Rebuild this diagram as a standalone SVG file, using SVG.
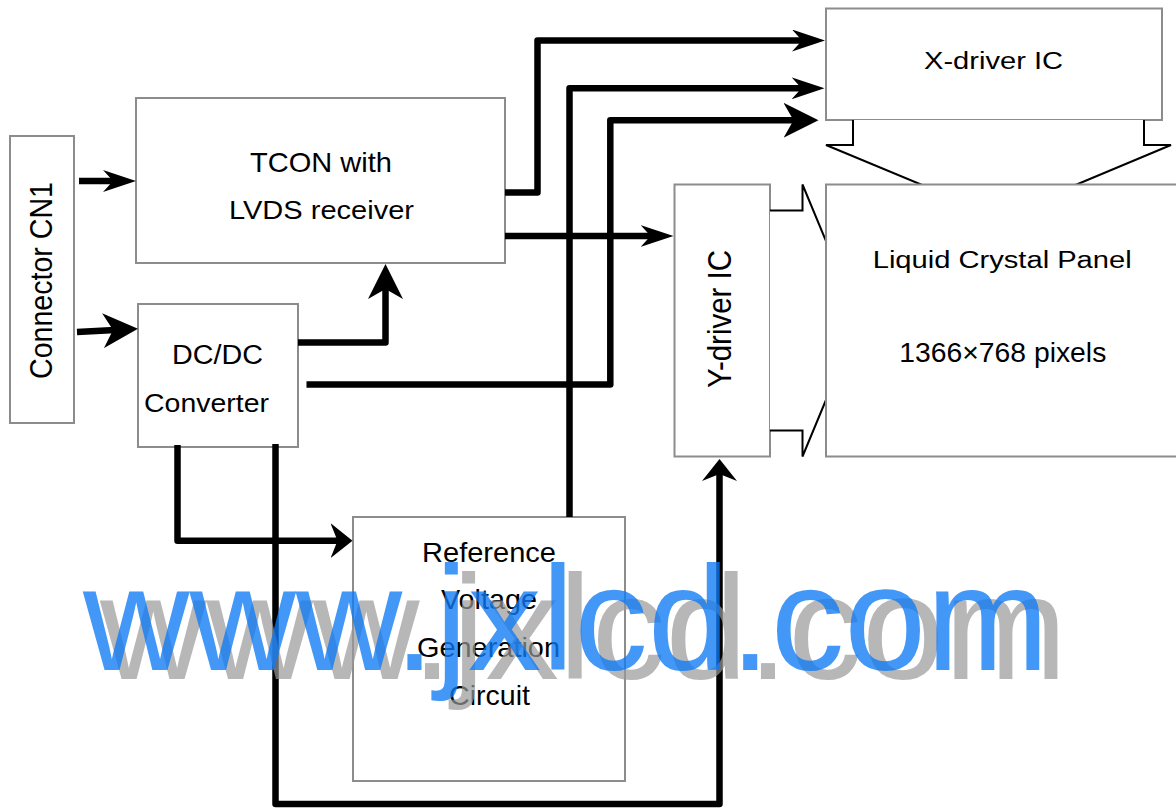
<svg xmlns="http://www.w3.org/2000/svg" width="1176" height="810" viewBox="0 0 1176 810">
<style>
.box{fill:#fff;stroke:#8c8c8c;stroke-width:2}
.t{font-family:"Liberation Sans",Arial,sans-serif;fill:#000}
.w{fill:none;stroke:#000;stroke-width:6.5;stroke-linejoin:round}
.h{fill:#fff;stroke:#000;stroke-width:2;stroke-linejoin:miter}
.wm{font-family:"Liberation Sans",Arial,sans-serif;font-size:148px}
</style>
<defs>
<marker id="ms" markerUnits="userSpaceOnUse" viewBox="0 0 33 22" markerWidth="33" markerHeight="22" refX="12" refY="11" orient="auto"><path d="M0,0 L33,11 L0,22 L10,11 Z" fill="#000"/></marker>
<marker id="mb" markerUnits="userSpaceOnUse" viewBox="0 0 35 35" markerWidth="35" markerHeight="35" refX="12" refY="17.5" orient="auto"><path d="M0,0 L35,17.5 L0,35 L10,17.5 Z" fill="#000"/></marker>
<marker id="mt" markerUnits="userSpaceOnUse" viewBox="0 0 22 35" markerWidth="22" markerHeight="35" refX="9" refY="17.5" orient="auto"><path d="M0,0 L22,17.5 L0,35 L7,17.5 Z" fill="#000"/></marker>
</defs>
<rect width="1176" height="810" fill="#fff"/>

<g id="connector-cn1">
<rect class="box" x="10" y="136" width="64" height="287"/>
<text class="t" transform="translate(51.5,280.5) rotate(-90)" text-anchor="middle" font-size="32" textLength="197" lengthAdjust="spacingAndGlyphs">Connector CN1</text>
</g>

<g id="tcon">
<rect class="box" x="136" y="98" width="369" height="165"/>
<text class="t" x="250" y="171.5" font-size="28" textLength="142" lengthAdjust="spacingAndGlyphs">TCON with</text>
<text class="t" x="229" y="219" font-size="25" textLength="185" lengthAdjust="spacingAndGlyphs">LVDS receiver</text>
</g>

<g id="dcdc">
<rect class="box" x="138" y="304" width="160" height="143"/>
<text class="t" x="172" y="364.3" font-size="28.4" textLength="91" lengthAdjust="spacingAndGlyphs">DC/DC</text>
<text class="t" x="144" y="412" font-size="26" textLength="125" lengthAdjust="spacingAndGlyphs">Converter</text>
</g>

<g id="x-driver">
<rect class="box" x="826" y="8.5" width="336" height="111.5"/>
<text class="t" x="924" y="69.3" font-size="23.3" textLength="139" lengthAdjust="spacingAndGlyphs">X-driver IC</text>
</g>

<g id="y-driver">
<rect class="box" x="674.5" y="184.5" width="95.5" height="272"/>
<text class="t" transform="translate(731,319) rotate(-90)" text-anchor="middle" font-size="33.5" textLength="138" lengthAdjust="spacingAndGlyphs">Y-driver IC</text>
</g>

<g id="panel-arrows">
<path class="h" d="M853,120 V145 H826 L999,217 L1171,145 H1144 V120"/>
<path class="h" d="M770,210.5 H802.5 V184.5 L859,320.5 L802.5,456.5 V430.5 H770"/>
</g>

<g id="panel">
<rect class="box" x="826" y="184.5" width="352" height="272"/>
<text class="t" x="872.7" y="268.3" font-size="23.3" textLength="259" lengthAdjust="spacingAndGlyphs">Liquid Crystal Panel</text>
<text class="t" x="899.3" y="361.7" font-size="28" textLength="207" lengthAdjust="spacingAndGlyphs">1366×768 pixels</text>
</g>

<g id="reference">
<rect class="box" x="353" y="517" width="272" height="264"/>
<text class="t" x="422" y="561.7" font-size="28" textLength="134" lengthAdjust="spacingAndGlyphs">Reference</text>
<text class="t" x="441" y="609.3" font-size="28" textLength="96" lengthAdjust="spacingAndGlyphs">Voltage</text>
<text class="t" x="417" y="657.3" font-size="28" textLength="143" lengthAdjust="spacingAndGlyphs">Generation</text>
<text class="t" x="449" y="705" font-size="28" textLength="81" lengthAdjust="spacingAndGlyphs">Circuit</text>
</g>

<g id="connectors">
<path class="w" d="M79,181 H115" marker-end="url(#ms)"/>
<path class="w" d="M77,332 L115,330" marker-end="url(#mb)"/>
<path class="w" d="M505,192.5 H537.5 V40.5 H804" marker-end="url(#ms)"/>
<path class="w" d="M569.5,517 V88.3 H803.5" marker-end="url(#ms)"/>
<path class="w" d="M306.5,384.5 H610.3 V120.3 H795.5" marker-end="url(#mb)"/>
<path class="w" d="M505,236 H652.5" marker-end="url(#ms)"/>
<path class="w" d="M298,342.5 H385.5 V287" marker-end="url(#mb)"/>
<path class="w" d="M177.5,445 V540.7 H339.5" marker-end="url(#mt)"/>
<path class="w" d="M275.5,444 V804 H719.5 V472" marker-end="url(#mt)"/>
</g>

<g id="watermark">
<text class="wm" x="100" y="679" fill="#999" fill-opacity="0.7" textLength="967" lengthAdjust="spacingAndGlyphs">www.jxlcd.com</text>
<text class="wm" x="83" y="670" fill="#0d7af5" fill-opacity="0.78" textLength="966" lengthAdjust="spacingAndGlyphs">www.jxlcd.com</text>
</g>
</svg>
